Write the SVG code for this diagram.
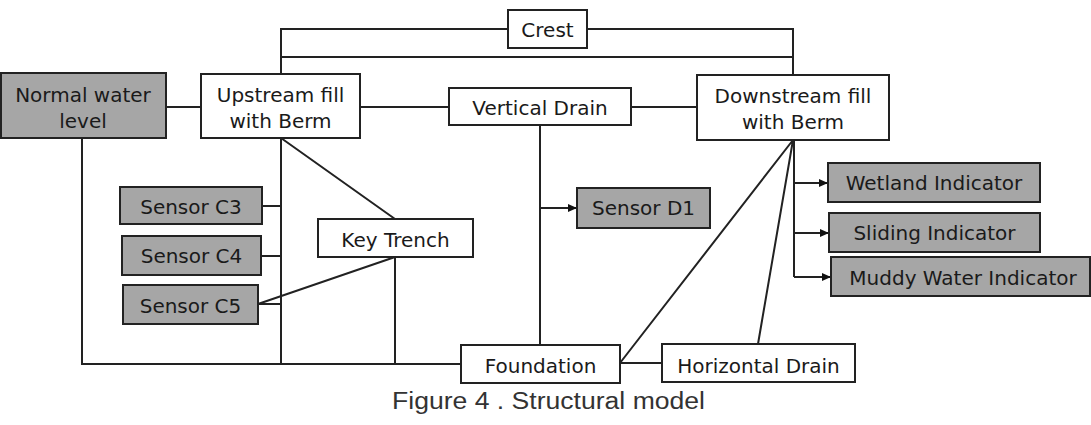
<svg xmlns="http://www.w3.org/2000/svg" width="1091" height="425" viewBox="0 0 1091 425">
<style>
.box{stroke:#222;stroke-width:2;fill:#fff}
.g{fill:#a6a6a6}
.t{font-family:"DejaVu Sans",Verdana,sans-serif;font-size:20px;fill:#1a1a1a;text-anchor:middle}
.c{stroke:#222;stroke-width:2;fill:none}
.cap{font-family:"Liberation Sans",Arial,sans-serif;font-size:23px;fill:#333}
</style>
<defs>
<marker id="ah" markerWidth="9" markerHeight="8" refX="8" refY="4" orient="auto" markerUnits="userSpaceOnUse">
<path d="M0,0 L9,4 L0,8 Z" fill="#111"/>
</marker>
</defs>
<rect width="1091" height="425" fill="#fff"/>
<g id="connectors">
<path class="c" d="M281,74 V29 H508 M587,29 H793 V75 M281,57 H793"/>
<path class="c" d="M166,107 H201 M360,107 H449 M631,107 H697"/>
<path class="c" d="M281,138 V364 M262,206 H281 M261,256 H281 M258,304 H281"/>
<path class="c" d="M281,138 L395,219 M395,257 L258,304 M395,257 V364"/>
<path class="c" d="M82,138 V364 H461"/>
<path class="c" d="M540,125 V345"/>
<path class="c" d="M540,208 H576" marker-end="url(#ah)"/>
<path class="c" d="M620,363 H662 M620,363 L793,140 M758,344 L793,140"/>
<path class="c" d="M794,140 V277"/>
<path class="c" d="M794,183 H827" marker-end="url(#ah)"/>
<path class="c" d="M794,233 H828" marker-end="url(#ah)"/>
<path class="c" d="M794,277 H830" marker-end="url(#ah)"/>
</g>
<g id="normal-water-level"><rect class="box g" x="1" y="73" width="165" height="65"/><text class="t" x="83" y="102">Normal water</text><text class="t" x="83" y="128">level</text></g>
<g id="upstream"><rect class="box" x="201" y="74" width="159" height="64"/><text class="t" x="280.5" y="102">Upstream fill</text><text class="t" x="280.5" y="128">with Berm</text></g>
<g id="crest"><rect class="box" x="508" y="10" width="79" height="38"/><text class="t" x="547.5" y="37">Crest</text></g>
<g id="vertical-drain"><rect class="box" x="449" y="88" width="182" height="37"/><text class="t" x="540" y="115">Vertical Drain</text></g>
<g id="downstream"><rect class="box" x="697" y="75" width="192" height="65"/><text class="t" x="793" y="103">Downstream fill</text><text class="t" x="793" y="129">with Berm</text></g>
<g id="wetland"><rect class="box g" x="828" y="163" width="212" height="39"/><text class="t" x="934" y="190">Wetland Indicator</text></g>
<g id="sliding"><rect class="box g" x="829" y="213" width="211" height="39"/><text class="t" x="934.5" y="240">Sliding Indicator</text></g>
<g id="muddy"><rect class="box g" x="831" y="257" width="259" height="39"/><text class="t" x="963" y="285">Muddy Water Indicator</text></g>
<g id="sensor-c3"><rect class="box g" x="120" y="187" width="142" height="37"/><text class="t" x="191" y="214">Sensor C3</text></g>
<g id="sensor-c4"><rect class="box g" x="122" y="236" width="139" height="39"/><text class="t" x="191.5" y="263">Sensor C4</text></g>
<g id="sensor-c5"><rect class="box g" x="123" y="285" width="135" height="39"/><text class="t" x="190.5" y="313">Sensor C5</text></g>
<g id="key-trench"><rect class="box" x="318" y="219" width="155" height="38"/><text class="t" x="395.5" y="247">Key Trench</text></g>
<g id="sensor-d1"><rect class="box g" x="577" y="188" width="133" height="40"/><text class="t" x="643.5" y="215">Sensor D1</text></g>
<g id="foundation"><rect class="box" x="461" y="345" width="159" height="38"/><text class="t" x="540.5" y="373">Foundation</text></g>
<g id="horizontal-drain"><rect class="box" x="662" y="344" width="193" height="38"/><text class="t" x="758.5" y="373">Horizontal Drain</text></g>
<text class="cap" x="392" y="409" textLength="313" lengthAdjust="spacingAndGlyphs">Figure 4 . Structural model</text>
</svg>
